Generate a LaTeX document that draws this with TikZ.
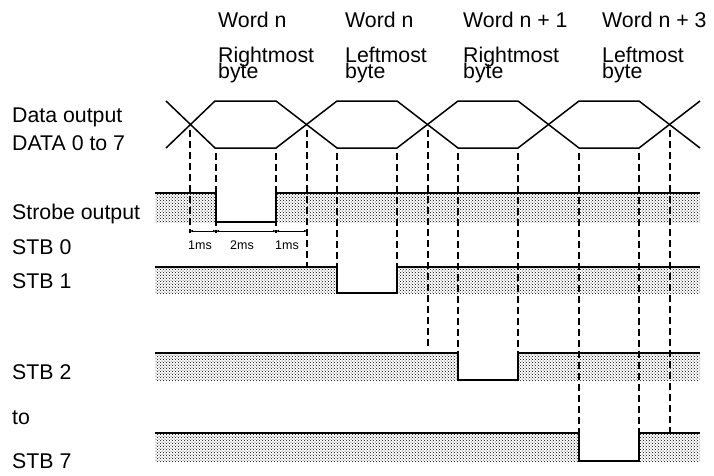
\documentclass[tikz,border=0pt]{standalone}
\usepackage{fontspec}
\setmainfont{Liberation Sans}
\usetikzlibrary{arrows.meta,patterns}
\newcommand{\tightlines}{\setlength{\lineskiplimit}{-20pt}}
% \stbrow{top}{bottom}{fall}{rise}
\newcommand{\stbrow}[4]{%
    \fill[band] (155,#1) rectangle (#3,#2);%
    \fill[band] (#4,#1) rectangle (700,#2);%
    \draw[sig] (155,#1) -- (#3,#1) -- (#3,#2) -- (#4,#2) -- (#4,#1) -- (700,#1);%
}

\begin{document}
\begin{tikzpicture}[
        x=1pt,
        y=-1pt,
        sig/.style={line width=1.5pt, line join=miter},
        guide/.style={line width=1.3pt, dash pattern=on 7pt off 4pt},
        band/.style={pattern=crosshatch dots, pattern color=black},
        dim/.style={{Latex[length=3pt,width=2.6pt]}-{Latex[length=3pt,width=2.6pt]}, line width=0.8pt},
        lbl/.style={anchor=base west, inner sep=0pt, font=\fontsize{21.3}{17}\selectfont},
        hdr/.style={anchor=north west, inner sep=0pt, align=left,
                    font={\fontsize{21.3}{16.2}\selectfont\tightlines}},
        ms/.style={anchor=base, inner sep=0pt, font=\fontsize{12.5}{14}\selectfont}
    ]
        \useasboundingbox (0,0) rectangle (714,475);

        % === EN-TETES ===
        \node[lbl] (w1) at (218,27) {Word n};
        \node[lbl] (w2) at (345,27) {Word n};
        \node[lbl] (w3) at (463,27) {Word n + 1};
        \node[lbl] (w4) at (602,27) {Word n + 3};
        \node[hdr] (b1) at (218,47) {Rightmost\\byte};
        \node[hdr] (b2) at (345,47) {Leftmost\\byte};
        \node[hdr] (b3) at (463,47) {Rightmost\\byte};
        \node[hdr] (b4) at (602,47) {Leftmost\\byte};

        % === LIBELLES DES SIGNAUX ===
        \node[lbl] (data) at (12,122) {Data output};
        \node[lbl] (data07) at (12,150) {DATA 0 to 7};
        \node[lbl] (strobe) at (12,219) {Strobe output};
        \node[lbl] (stb0) at (12,254) {STB 0};
        \node[lbl] (stb1) at (12,288) {STB 1};
        \node[lbl] (stb2) at (12,379) {STB 2};
        \node[lbl] (to) at (12,424) {to};
        \node[lbl] (stb7) at (12,468) {STB 7};

        % === DONNEES ===
        \draw[sig] (166,148) -- (215,101) -- (276,101) -- (337,148) -- (397,148)
            -- (458,101) -- (518,101) -- (579,148) -- (639,148) -- (700,101);
        \draw[sig] (166,101) -- (215,148) -- (276,148) -- (337,101) -- (397,101)
            -- (458,148) -- (518,148) -- (579,101) -- (639,101) -- (700,148);

        % === STROBES ===
        \stbrow{193}{222}{216}{276}
        \stbrow{267}{293}{337}{397}
        \stbrow{353}{380}{458}{518}
        \stbrow{433}{461}{579}{639}

        % === REPERES ===
        \foreach \x/\ya/\yb in {190/130/233, 216/153/233, 276/153/233,
                                307/130/267, 337/153/267, 397/153/267,
                                428/130/349, 458/153/353, 518/153/353,
                                579/153/433, 639/153/433, 670/130/433}
            \draw[guide] (\x,\ya) -- (\x,\yb);

        % === DUREES ===
        \draw[dim] (190,231) -- (216,231);
        \draw[dim] (216,231) -- (276,231);
        \draw[dim] (276,231) -- (307,231);
        \node[ms] (t1) at (200,249) {1ms};
        \node[ms] (t2) at (242,249) {2ms};
        \node[ms] (t3) at (287,249) {1ms};
    \end{tikzpicture}
\end{document}
